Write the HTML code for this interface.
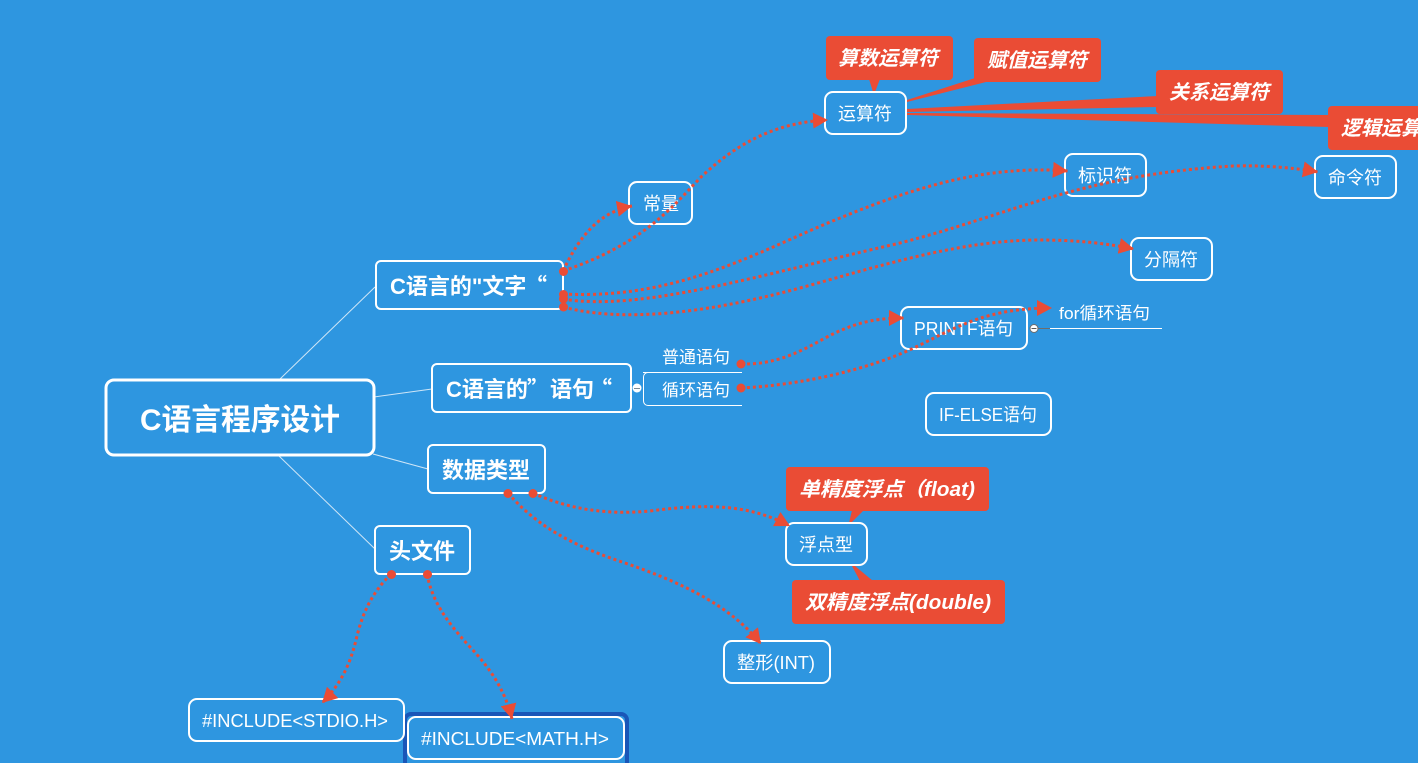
<!DOCTYPE html>
<html lang="zh">
<head>
<meta charset="utf-8">
<title>C语言程序设计</title>
<style>
html,body{margin:0;padding:0;background:#2e96e0;width:1418px;height:763px;overflow:hidden}
svg{display:block}
text{font-family:"Liberation Sans","Noto Sans CJK SC",sans-serif;fill:#fff}
.n{font-size:18px}
.s{font-size:17px}
.b{font-size:22px;font-weight:bold}
.c{font-size:20px;font-weight:bold;font-style:italic}
.q{font-family:"Noto Sans CJK SC",sans-serif;font-size:22px;font-weight:bold}
.box{fill:none;stroke:#fff;stroke-width:2}
.rel{fill:none;stroke:#ea4c35;stroke-width:3;stroke-dasharray:3 3;marker-end:url(#a)}
.red{fill:#ea4c35}
</style>
</head>
<body>
<svg width="1418" height="763" viewBox="0 0 1418 763" xmlns="http://www.w3.org/2000/svg">
<defs>
<marker id="a" markerUnits="userSpaceOnUse" markerWidth="18" markerHeight="18" refX="15" refY="8" orient="auto">
<path d="M0,0L15,8L0,16Z" fill="#ea4c35"/>
</marker>
</defs>
<rect width="1418" height="763" fill="#2e96e0"/>

<!-- root connectors -->
<g stroke="#cfe6f7" stroke-width="1" fill="none">
<path d="M280,379L375,287"/>
<path d="M374,397L432,389"/>
<path d="M373,454L428,469"/>
<path d="M279,456L375,549"/>
</g>

<!-- callout tails -->
<g class="red">
<polygon points="869,79 880,79 875,92 873,92"/>
<polygon points="975,78 990,81 907,102 907,100"/>
<polygon points="1158,96 1158,107 907,112 907,109"/>
<polygon points="1329,115 1329,127 907,115 907,113"/>
<polygon points="852,510 864,510 851,523 849,523"/>
<polygon points="852,566 855,566 873,581 860,581"/>
</g>

<!-- callouts -->
<g class="red">
<rect x="826" y="36" width="127" height="44" rx="4"/>
<rect x="974" y="38" width="127" height="44" rx="4"/>
<rect x="1156" y="70" width="127" height="44" rx="4"/>
<rect x="1328" y="106" width="127" height="44" rx="4"/>
<rect x="786" y="467" width="203" height="44" rx="4"/>
<rect x="792" y="580" width="213" height="44" rx="4"/>
</g>
<g class="c">
<text x="838" y="65">算数运算符</text>
<text x="987" y="67">赋值运算符</text>
<text x="1169" y="99">关系运算符</text>
<text x="1341" y="135">逻辑运算符</text>
<text x="799" y="496" textLength="176" lengthAdjust="spacingAndGlyphs">单精度浮点（float)</text>
<text x="805" y="609" textLength="186" lengthAdjust="spacingAndGlyphs">双精度浮点(double)</text>
</g>

<!-- boxes -->
<rect x="405" y="714" width="222" height="54" rx="6" fill="none" stroke="#1a56b8" stroke-width="4"/>
<rect x="106" y="380" width="268" height="75" rx="8" class="box" style="stroke-width:3"/>
<rect x="376" y="261" width="187" height="48" rx="5" class="box"/>
<rect x="432" y="364" width="199" height="48" rx="5" class="box"/>
<rect x="428" y="445" width="117" height="48" rx="5" class="box"/>
<rect x="375" y="526" width="95" height="48" rx="5" class="box"/>
<rect x="825" y="92" width="81" height="42" rx="8" class="box"/>
<rect x="629" y="182" width="63" height="42" rx="8" class="box"/>
<rect x="1065" y="154" width="81" height="42" rx="8" class="box"/>
<rect x="1315" y="156" width="81" height="42" rx="8" class="box"/>
<rect x="1131" y="238" width="81" height="42" rx="8" class="box"/>
<rect x="901" y="307" width="126" height="42" rx="8" class="box"/>
<rect x="926" y="393" width="125" height="42" rx="8" class="box"/>
<rect x="786" y="523" width="81" height="42" rx="8" class="box"/>
<rect x="724" y="641" width="106" height="42" rx="8" class="box"/>
<rect x="189" y="699" width="215" height="42" rx="8" class="box"/>
<rect x="408" y="717" width="216" height="42" rx="8" class="box"/>

<!-- sub-topic lines -->
<path d="M643,372.5H742M742,405.5H648a4.500,4.500 0 0 1 -4.500,-4.500V377a4.500,4.500 0 0 1 4.500,-4.500" fill="none" stroke="#fff" stroke-width="1"/>
<path d="M1030,328.500H1050" stroke="#6d6d6d" stroke-width="1"/>
<path d="M1050,328.500H1162" stroke="#fff" stroke-width="1"/>
<circle cx="637" cy="388" r="4.500" fill="#fff"/>
<path d="M634,388.500H640" stroke="#7d8b96" stroke-width="1"/>
<circle cx="1034" cy="328.500" r="4" fill="#fff" stroke="#6d6d6d"/>
<path d="M1031.500,328.500H1036.500" stroke="#555" stroke-width="1"/>

<!-- text -->
<text x="140" y="430" font-size="30" font-weight="bold" textLength="200" lengthAdjust="spacingAndGlyphs">C语言程序设计</text>
<text class="b" x="390" y="294">C语言的"文字</text>
<text class="q" x="525" y="294">“</text>
<text class="b" x="446" y="397">C语言的</text>
<text class="q" x="527" y="397">”</text>
<text class="b" x="550" y="397">语句</text>
<text class="q" x="590" y="397">“</text>
<text class="b" x="442" y="478">数据类型</text>
<text class="b" x="389" y="559">头文件</text>
<g class="n">
<text x="838" y="120">运算符</text>
<text x="643" y="210">常量</text>
<text x="1078" y="182">标识符</text>
<text x="1328" y="184">命令符</text>
<text x="1144" y="266">分隔符</text>
<text x="914" y="335" textLength="99" lengthAdjust="spacingAndGlyphs">PRINTF语句</text>
<text x="939" y="421" textLength="98" lengthAdjust="spacingAndGlyphs">IF-ELSE语句</text>
<text x="799" y="551">浮点型</text>
<text x="737" y="669" textLength="78" lengthAdjust="spacingAndGlyphs">整形(INT)</text>
<text x="202" y="727" textLength="186" lengthAdjust="spacingAndGlyphs">#INCLUDE&lt;STDIO.H&gt;</text>
<text x="421" y="745" textLength="188" lengthAdjust="spacingAndGlyphs">#INCLUDE&lt;MATH.H&gt;</text>
</g>
<g class="s">
<text x="662" y="363">普通语句</text>
<text x="662" y="396">循环语句</text>
<text x="1059" y="319" textLength="91" lengthAdjust="spacingAndGlyphs">for循环语句</text>
</g>

<!-- relationships -->
<path class="rel" d="M563,271C580,235 600,212 632,206"/>
<path class="rel" d="M563,271C640,245 670,210 700,178C740,140 780,122 828,120"/>
<path class="rel" d="M563,294C680,300 760,250 840,218C920,185 990,165 1068,171"/>
<path class="rel" d="M563,299C640,312 760,275 900,243C1010,215 1080,175 1233,166C1265,165 1295,168 1318,172"/>
<path class="rel" d="M563,307C620,322 700,315 800,288C880,266 960,240 1040,240C1075,240 1105,243 1134,249"/>
<path class="rel" d="M741,364C775,365 800,352 825,338C850,325 870,318 904,318"/>
<path class="rel" d="M741,388C800,385 870,370 920,345C960,325 990,308 1052,308"/>
<path class="rel" d="M533,493C570,510 610,515 650,511C710,503 750,505 790,526"/>
<path class="rel" d="M508,493C540,530 580,548 625,563C680,582 730,605 761,644"/>
<path class="rel" d="M391,574C370,595 362,615 356,640C350,665 340,685 322,703"/>
<path class="rel" d="M427,574C432,600 445,620 470,647C490,668 505,690 512,719"/>

<!-- dots -->
<g class="red">
<circle cx="563.500" cy="271.500" r="4.500"/>
<circle cx="563.500" cy="294.500" r="4.500"/>
<circle cx="563.500" cy="299" r="4.500"/>
<circle cx="563.500" cy="307" r="4.500"/>
<circle cx="741" cy="364" r="4.500"/>
<circle cx="741" cy="388" r="4.500"/>
<circle cx="508" cy="493.500" r="4.500"/>
<circle cx="533" cy="493.500" r="4.500"/>
<circle cx="391.500" cy="574.500" r="4.500"/>
<circle cx="427.500" cy="574.500" r="4.500"/>
</g>
</svg>
</body>
</html>
